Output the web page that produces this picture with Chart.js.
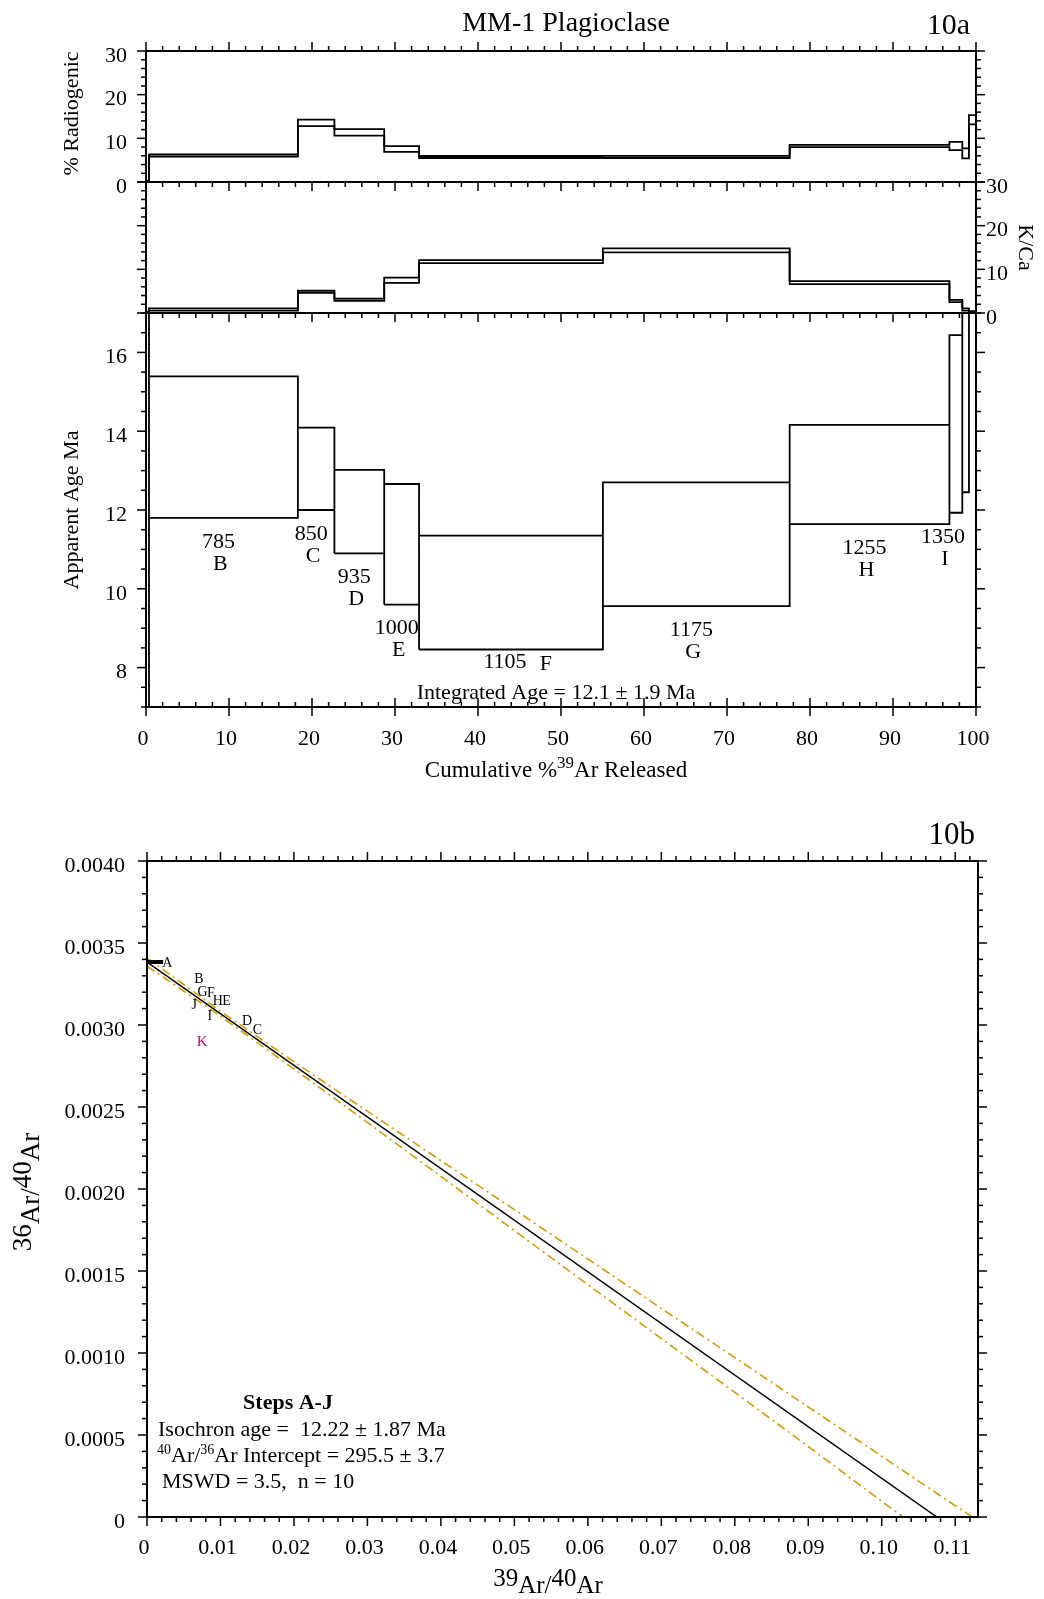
<!DOCTYPE html>
<html>
<head>
<meta charset="utf-8">
<title>MM-1 Plagioclase</title>
<script src="https://cdn.jsdelivr.net/npm/chart.js@4.4.1/dist/chart.umd.min.js"></script>
<style>
  html, body { margin: 0; padding: 0; background: #fff; }
  #wrap { position: relative; width: 1044px; height: 1599px; }
  #wrap canvas { position: absolute; left: 0; top: 0; width: 1044px; height: 1599px; }
</style>
</head>
<body>
<div id="wrap">
  <canvas id="radChart" width="1044" height="1599"></canvas>
  <canvas id="kcaChart" width="1044" height="1599"></canvas>
  <canvas id="ageChart" width="1044" height="1599"></canvas>
  <canvas id="isoChart" width="1044" height="1599"></canvas>
</div>
<script>
// heating steps
const steps = ['A', 'B', 'C', 'D', 'E', 'F', 'G', 'H', 'I', 'J', 'K'];
const temps = [null, 785, 850, 935, 1000, 1105, 1175, 1255, 1350, null, null];
// cumulative % 39Ar at the end of each step
const cumRelease = [0.36, 18.3, 22.7, 28.7, 32.9, 55.05, 77.55, 96.8, 98.35, 99.15, 100];

const radLo = [0, 5.8, 12.8, 10.6, 6.9, 5.5, 5.5, 8.0, 7.3, 5.4, 13.2];
const radHi = [0.3, 6.3, 14.3, 12.1, 8.2, 5.95, 6.0, 8.5, 9.2, 7.7, 15.3];
const kcaLo = [0, 0.53, 4.6, 2.8, 6.9, 11.4, 13.9, 6.6, 2.5, 0.55, 0.1];
const kcaHi = [0.3, 1.08, 5.1, 3.3, 8.1, 12.1, 14.8, 7.3, 3.0, 1.07, 0.45];
const ageLo = [2.0, 11.80, 12.00, 10.90, 9.60, 8.46, 9.56, 11.64, 11.93, 12.45, 18.5];
const ageHi = [22.0, 15.39, 14.09, 13.02, 12.66, 11.35, 12.70, 14.16, 16.44, 21.0, 23.0];

const pctTicks = [0, 10, 20, 30];
const kcaTicks = [0, 10, 20, 30];
const ageTicks = [8, 10, 12, 14, 16];
const releaseTicks = [0, 10, 20, 30, 40, 50, 60, 70, 80, 90, 100];

// isochron: step positions (39Ar/40Ar, 36Ar/40Ar)
const isoX = [0.00276, 0.00707, 0.01504, 0.01363, 0.01083, 0.0087, 0.00757, 0.00965, 0.00856, 0.00643, 0.00751];
const isoY = [0.003376, 0.003279, 0.002965, 0.00302, 0.003142, 0.003195, 0.003199, 0.003142, 0.003051, 0.003122, 0.002894];
const excluded = ['K'];
const interceptRatio = 295.5;
const interceptBarX = [0, 0.0022];
const isoLineX = [0, 0.1075];
const isoLineY = [1 / interceptRatio, 0];
const envUpperX = [0, 0.01, 0.02, 0.03, 0.04, 0.05, 0.06, 0.07, 0.08, 0.09, 0.10, 0.11, 0.1123];
const envUpperY = [0.003409, 0.003084, 0.002776, 0.002474, 0.002173, 0.001874, 0.001573, 0.001272, 0.000972, 0.000671, 0.00037, 0.000069, 0];
const envLowerX = [0, 0.01, 0.02, 0.03, 0.04, 0.05, 0.06, 0.07, 0.08, 0.09, 0.10, 0.1029];
const envLowerY = [0.003359, 0.003054, 0.002732, 0.002406, 0.002077, 0.001746, 0.001417, 0.001088, 0.00076, 0.00043, 0.000095, 0];
const isoXTicks = [0, 0.01, 0.02, 0.03, 0.04, 0.05, 0.06, 0.07, 0.08, 0.09, 0.10, 0.11];
const isoYTicks = [0, 0.0005, 0.0010, 0.0015, 0.0020, 0.0025, 0.0030, 0.0035, 0.0040];

const serif = '"Liberation Serif", "Times New Roman", Times, serif';
Chart.defaults.font.family = serif;
Chart.defaults.font.size = 22;
Chart.defaults.color = '#000';

// full rectangles, one per step (age spectrum)
function boxPoints(lo, hi) {
  const pts = [];
  lo.forEach(function(l, i) {
    const x0 = i === 0 ? 0 : cumRelease[i - 1];
    const x1 = cumRelease[i];
    pts.push({x: x0, y: l}, {x: x1, y: l}, {x: x1, y: hi[i]}, {x: x0, y: hi[i]}, {x: x0, y: l}, {x: x0, y: null});
  });
  return pts;
}

// one continuous stepped outline
function stepPoints(vals) {
  const pts = [];
  vals.forEach(function(v, i) {
    const x0 = i === 0 ? 0 : cumRelease[i - 1];
    pts.push({x: x0, y: v}, {x: cumRelease[i], y: v});
  });
  return pts;
}

function lineSet(points) {
  return {data: points, borderColor: '#000', borderWidth: 1.8, pointRadius: 0, fill: false, tension: 0, spanGaps: false};
}

function xy(xs, ys) {
  return xs.map(function(x, i) { return {x: x, y: ys[i]}; });
}

function axis(position, min, max, tickValues, size, pad, offset, fmt) {
  return {
    type: 'linear', position: position, min: min, max: max,
    grid: {display: false, drawTicks: false}, border: {display: false},
    afterBuildTicks: function(s) { s.ticks = tickValues.map(function(v) { return {value: v}; }); },
    afterFit: function(s) { if (s.isHorizontal()) s.height = size; else s.width = size; },
    ticks: {padding: pad, labelOffset: offset, autoSkip: false, maxRotation: 0, minRotation: 0, callback: fmt}
  };
}

function hiddenX(min, max) {
  return {type: 'linear', min: min, max: max, display: false};
}

// frame plus minor / major tick marks, drawn from the scales
function frame(specs) {
  return {
    id: 'frame',
    afterDraw: function(chart) {
      const ctx = chart.ctx, a = chart.chartArea;
      ctx.save();
      ctx.strokeStyle = '#000';
      ctx.lineWidth = 1.5;
      specs.forEach(function(s) {
        const scale = chart.scales[s.axis];
        const first = Math.ceil(scale.min / s.minor - 1e-6);
        const last = Math.floor(scale.max / s.minor + 1e-6);
        for (let k = first; k <= last; k++) {
          const v = k * s.minor;
          const r = v / s.major;
          const major = Math.abs(r - Math.round(r)) < 1e-6;
          const len = major ? 9 : 5;
          let o0, o1;
          if (s.dir === 'out') { o0 = 0; o1 = len; }
          else if (s.dir === 'in') { o0 = -len; o1 = 0; }
          else { o0 = -len; o1 = major ? len : 0; }
          const p = scale.getPixelForValue(v);
          ctx.beginPath();
          if (s.side === 'top') { ctx.moveTo(p, a.top - o0); ctx.lineTo(p, a.top - o1); }
          if (s.side === 'bottom') { ctx.moveTo(p, a.bottom + o0); ctx.lineTo(p, a.bottom + o1); }
          if (s.side === 'left') { ctx.moveTo(a.left - o0, p); ctx.lineTo(a.left - o1, p); }
          if (s.side === 'right') { ctx.moveTo(a.right + o0, p); ctx.lineTo(a.right + o1, p); }
          ctx.stroke();
        }
      });
      ctx.lineWidth = 2;
      ctx.strokeRect(a.left, a.top, a.right - a.left, a.bottom - a.top);
      ctx.restore();
    }
  };
}

function label(ctx, str, x, y, size, opts) {
  opts = opts || {};
  ctx.save();
  ctx.font = (opts.bold ? 'bold ' : '') + size + 'px ' + serif;
  ctx.fillStyle = opts.color || '#000';
  ctx.textAlign = opts.align || 'left';
  ctx.textBaseline = opts.baseline || 'alphabetic';
  ctx.translate(x, y);
  if (opts.rotate) ctx.rotate(opts.rotate);
  ctx.fillText(str, 0, 0);
  ctx.restore();
}

// pieces: [text, size, dy]
function richLabel(ctx, pieces, x, y, align, rotate) {
  ctx.save();
  ctx.translate(x, y);
  if (rotate) ctx.rotate(rotate);
  let total = 0;
  pieces.forEach(function(p) { ctx.font = p[1] + 'px ' + serif; total += ctx.measureText(p[0]).width; });
  let cx = align === 'center' ? -total / 2 : 0;
  ctx.fillStyle = '#000';
  ctx.textAlign = 'left';
  ctx.textBaseline = 'alphabetic';
  pieces.forEach(function(p) {
    ctx.font = p[1] + 'px ' + serif;
    ctx.fillText(p[0], cx, p[2]);
    cx += ctx.measureText(p[0]).width;
  });
  ctx.restore();
}

const baseOptions = {responsive: false, animation: false, events: [],
  plugins: {legend: {display: false}, tooltip: {enabled: false}}};

// % radiogenic panel
new Chart(document.getElementById('radChart'), {
  type: 'line',
  data: {datasets: [lineSet(stepPoints(radLo)), lineSet(stepPoints(radHi))]},
  options: Object.assign({}, baseOptions, {
    layout: {padding: {left: 0, top: 51, right: 68, bottom: 1417}},
    scales: {
      x: hiddenX(0, 100),
      y: axis('left', 0, 30, pctTicks, 146, 19, 5, function(v) { return String(v); })
    }
  }),
  plugins: [frame([
    {axis: 'x', side: 'top', dir: 'out', minor: 2, major: 10},
    {axis: 'y', side: 'left', dir: 'out', minor: 2, major: 10},
    {axis: 'y', side: 'right', dir: 'out', minor: 2, major: 10}
  ]), {
    id: 'radText',
    afterDraw: function(chart) {
      const ctx = chart.ctx, a = chart.chartArea;
      label(ctx, 'MM-1 Plagioclase', 566, 31, 28, {align: 'center'});
      label(ctx, '10a', 970, 34, 30, {align: 'right'});
      label(ctx, '% Radiogenic', 78, (a.top + a.bottom) / 2 - 3, 22, {align: 'center', rotate: -Math.PI / 2});
    }
  }]
});

// K/Ca panel
new Chart(document.getElementById('kcaChart'), {
  type: 'line',
  data: {datasets: [lineSet(stepPoints(kcaLo)), lineSet(stepPoints(kcaHi))]},
  options: Object.assign({}, baseOptions, {
    layout: {padding: {left: 146, top: 182, right: 0, bottom: 1286}},
    scales: {
      x: hiddenX(0, 100),
      y: axis('right', 0, 30, kcaTicks, 68, 10, 5, function(v) { return String(v); })
    }
  }),
  plugins: [frame([
    {axis: 'x', side: 'top', dir: 'in', minor: 2, major: 10},
    {axis: 'y', side: 'left', dir: 'out', minor: 2, major: 10},
    {axis: 'y', side: 'right', dir: 'out', minor: 2, major: 10}
  ]), {
    id: 'kcaText',
    afterDraw: function(chart) {
      const a = chart.chartArea;
      label(chart.ctx, 'K/Ca', 1019, (a.top + a.bottom) / 2, 22, {align: 'center', rotate: Math.PI / 2});
    }
  }]
});

// apparent age spectrum
new Chart(document.getElementById('ageChart'), {
  type: 'line',
  data: {datasets: [lineSet(boxPoints(ageLo, ageHi))]},
  options: Object.assign({}, baseOptions, {
    layout: {padding: {left: 0, top: 313, right: 68, bottom: 832}},
    scales: {
      x: axis('bottom', 0, 100, releaseTicks, 60, 19, -3, function(v) { return String(v); }),
      y: axis('left', 7, 17, ageTicks, 146, 19, 5, function(v) { return String(v); })
    }
  }),
  plugins: [frame([
    {axis: 'x', side: 'top', dir: 'in', minor: 2, major: 10},
    {axis: 'x', side: 'bottom', dir: 'cross', minor: 2, major: 10},
    {axis: 'y', side: 'left', dir: 'out', minor: 0.5, major: 2},
    {axis: 'y', side: 'right', dir: 'out', minor: 0.5, major: 2}
  ]), {
    id: 'ageText',
    afterDraw: function(chart) {
      const ctx = chart.ctx, a = chart.chartArea, x = chart.scales.x, y = chart.scales.y;
      ctx.save();
      ctx.font = '22px ' + serif;
      ctx.fillStyle = '#000';
      ctx.textAlign = 'center';
      ctx.textBaseline = 'middle';
      temps.forEach(function(t, i) {
        if (t === null) return;
        const x0 = i === 0 ? 0 : cumRelease[i - 1];
        const lo = y.getPixelForValue(ageLo[i]);
        const w = ctx.measureText(String(t)).width;
        let cx = x.getPixelForValue((x0 + cumRelease[i]) / 2) - 5;
        cx = Math.min(cx, a.right - 11 - w / 2);
        if (lo + 46 > a.bottom - 35) {
          ctx.fillText(String(t), cx - 1, lo + 13);
          ctx.fillText(steps[i], cx + 40, lo + 15);
        } else {
          ctx.fillText(String(t), cx, lo + 24);
          ctx.fillText(steps[i], cx + 2, lo + 46);
        }
      });
      ctx.restore();
      label(ctx, 'Integrated Age = 12.1 \u00b1 1.9 Ma', (a.left + a.right) / 2 - 5, a.bottom - 8, 22, {align: 'center'});
      label(ctx, 'Apparent Age Ma', 78, (a.top + a.bottom) / 2, 22, {align: 'center', rotate: -Math.PI / 2});
      richLabel(ctx, [['Cumulative %', 23, 0], ['39', 17, -9], ['Ar Released', 23, 0]], (a.left + a.right) / 2 - 5, 777, 'center');
    }
  }]
});

// isochron
new Chart(document.getElementById('isoChart'), {
  type: 'line',
  data: {datasets: [
    {data: xy(isoX, isoY), showLine: false, pointRadius: 0},
    {data: xy(interceptBarX, [isoLineY[0], isoLineY[0]]), borderColor: '#000', borderWidth: 4, pointRadius: 0, tension: 0},
    {data: xy(isoLineX, isoLineY), borderColor: '#000', borderWidth: 1.5, pointRadius: 0, tension: 0},
    {data: xy(envUpperX, envUpperY), borderColor: '#d4a017', borderWidth: 1.7, borderDash: [9, 4, 2, 4], pointRadius: 0, tension: 0},
    {data: xy(envLowerX, envLowerY), borderColor: '#d4a017', borderWidth: 1.7, borderDash: [9, 4, 2, 4], pointRadius: 0, tension: 0}
  ]},
  options: Object.assign({}, baseOptions, {
    layout: {padding: {left: 0, top: 861, right: 66, bottom: 22}},
    scales: {
      x: axis('bottom', 0, 0.1131, isoXTicks, 60, 18, -3, function(v) { return v === 0 ? '0' : v.toFixed(2); }),
      y: axis('left', 0, 0.004, isoYTicks, 147, 22, 5, function(v) { return v === 0 ? '0' : v.toFixed(4); })
    }
  }),
  plugins: [frame([
    {axis: 'x', side: 'top', dir: 'out', minor: 0.002, major: 0.01},
    {axis: 'x', side: 'bottom', dir: 'out', minor: 0.002, major: 0.01},
    {axis: 'y', side: 'left', dir: 'out', minor: 0.0001, major: 0.0005},
    {axis: 'y', side: 'right', dir: 'out', minor: 0.0001, major: 0.0005}
  ]), {
    id: 'isoText',
    afterDraw: function(chart) {
      const ctx = chart.ctx, a = chart.chartArea;
      const pts = chart.getDatasetMeta(0).data;
      pts.forEach(function(p, i) {
        const out = excluded.indexOf(steps[i]) >= 0;
        label(ctx, steps[i], p.x, p.y, out ? 15 : 14, {align: 'center', baseline: 'middle', color: out ? '#b8106a' : '#000'});
      });
      label(ctx, '10b', 975, 844, 31, {align: 'right'});
      label(ctx, 'Steps A-J', a.left + 141, a.bottom - 108, 22, {align: 'center', bold: true});
      label(ctx, 'Isochron age =  12.22 \u00b1 1.87 Ma', a.left + 11, a.bottom - 81, 22);
      richLabel(ctx, [['40', 14, -8], ['Ar/', 22, 0], ['36', 14, -8], ['Ar Intercept = 295.5 \u00b1 3.7', 22, 0]], a.left + 10, a.bottom - 55, 'left');
      label(ctx, 'MSWD = 3.5,  n = 10', a.left + 15, a.bottom - 29, 22);
      richLabel(ctx, [['39', 25, 0], ['Ar/', 25, 7], ['40', 25, 0], ['Ar', 25, 7]], 548, 1586, 'center');
      richLabel(ctx, [['36', 27, 0], ['Ar/', 27, 8], ['40', 27, 0], ['Ar', 27, 8]], 31, (a.top + a.bottom) / 2 + 3, 'center', -Math.PI / 2);
    }
  }]
});
</script>
</body>
</html>
